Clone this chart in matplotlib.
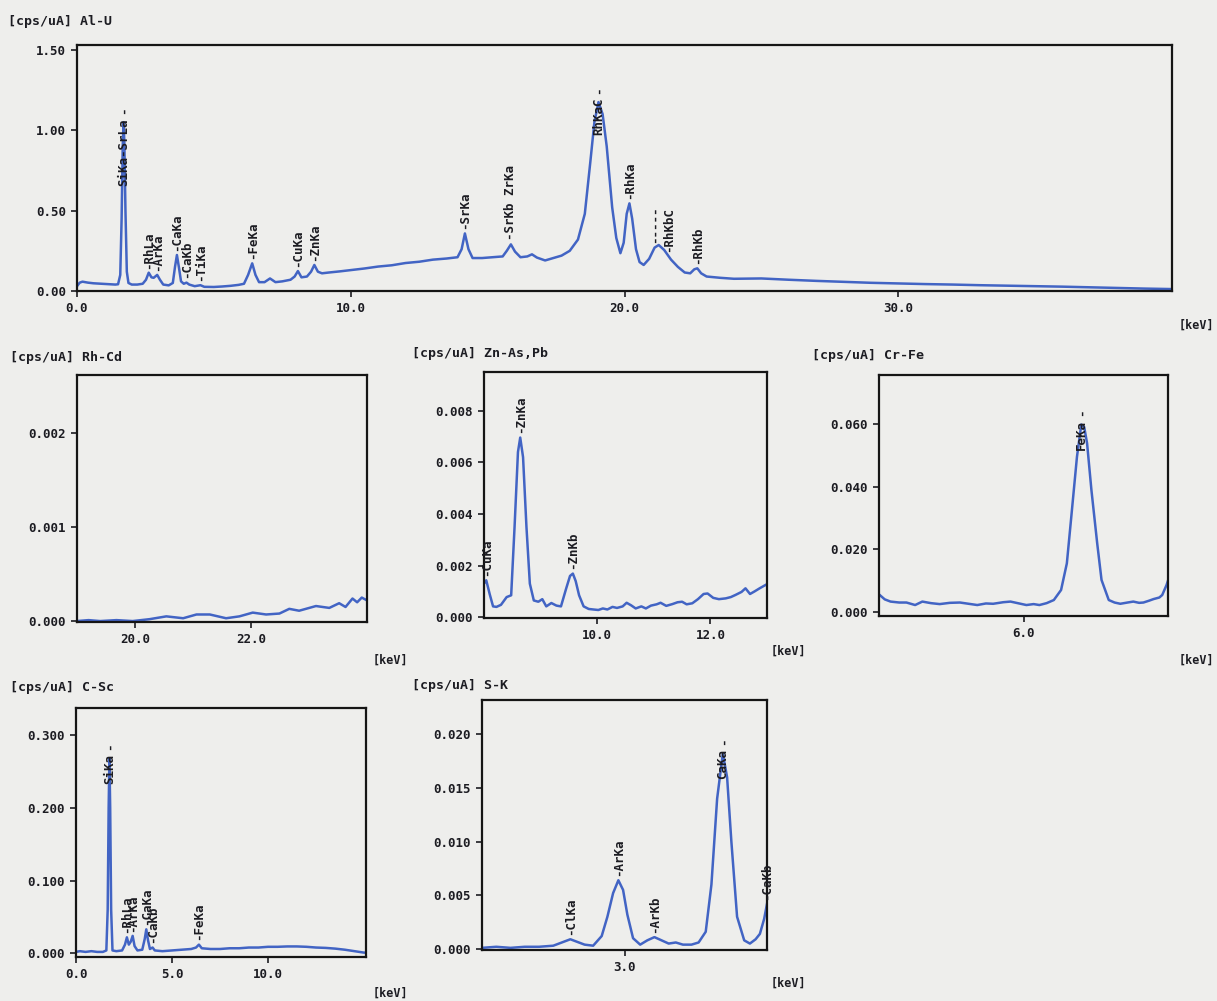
import numpy as np
import matplotlib
matplotlib.use("Agg")
import matplotlib.pyplot as plt
from matplotlib.ticker import FixedLocator, FormatStrFormatter

# ---------------- spectra (energy in keV, intensity in cps/uA) ----------------
al_u_kev = [0.00, 0.10, 0.20, 0.40, 0.60, 0.80, 1.00, 1.20, 1.40, 1.50, 1.58, 1.63, 1.67, 1.70,
            1.73, 1.77, 1.82, 1.88, 2.00, 2.20, 2.40, 2.52, 2.62, 2.72, 2.80, 2.93, 3.03, 3.15,
            3.35, 3.50, 3.58, 3.65, 3.72, 3.80, 3.90, 4.00, 4.10, 4.30, 4.51, 4.65, 5.00, 5.30,
            5.60, 5.90, 6.10, 6.25, 6.40, 6.52, 6.65, 6.85, 7.05, 7.25, 7.50, 7.80, 7.95, 8.07,
            8.20, 8.40, 8.55, 8.67, 8.80, 8.95, 9.20, 9.60, 10.0, 10.5, 11.0, 11.5, 12.0, 12.5,
            13.0, 13.5, 13.9, 14.05, 14.17, 14.30, 14.45, 14.8, 15.2, 15.55, 15.70, 15.85, 16.00,
            16.20, 16.45, 16.62, 16.80, 17.1, 17.4, 17.7, 18.0, 18.3, 18.55, 18.75, 18.90, 19.05,
            19.20, 19.35, 19.55, 19.70, 19.85, 19.97, 20.08, 20.18, 20.28, 20.42, 20.55, 20.70,
            20.90, 21.10, 21.25, 21.45, 21.70, 21.95, 22.20, 22.40, 22.55, 22.66, 22.80, 23.00,
            23.5, 24.0, 25.0, 26.0, 27.0, 28.0, 29.0, 30.0, 31.0, 32.0, 33.0, 34.0, 35.0, 36.0,
            37.0, 38.0, 39.0, 40.0]
al_u_cps = [0.030, 0.052, 0.058, 0.052, 0.048, 0.046, 0.044, 0.042, 0.040, 0.042, 0.10, 0.45, 0.90, 1.05,
            0.92, 0.50, 0.12, 0.050, 0.040, 0.040, 0.045, 0.070, 0.114, 0.085, 0.082, 0.100, 0.070, 0.040,
            0.035, 0.050, 0.150, 0.224, 0.150, 0.060, 0.045, 0.052, 0.040, 0.030, 0.036, 0.026, 0.025, 0.028,
            0.032, 0.038, 0.045, 0.100, 0.172, 0.100, 0.055, 0.055, 0.078, 0.055, 0.060, 0.070, 0.090, 0.124,
            0.085, 0.090, 0.120, 0.162, 0.120, 0.110, 0.115, 0.122, 0.130, 0.140, 0.152, 0.160, 0.174, 0.182,
            0.195, 0.202, 0.210, 0.260, 0.358, 0.260, 0.205, 0.205, 0.210, 0.215, 0.250, 0.290, 0.245,
            0.210, 0.215, 0.228, 0.208, 0.190, 0.205, 0.220, 0.250, 0.320, 0.480, 0.800, 1.050, 1.175,
            1.100, 0.900, 0.520, 0.330, 0.235, 0.300, 0.480, 0.545, 0.450, 0.260, 0.180, 0.162,
            0.200, 0.270, 0.286, 0.255, 0.195, 0.150, 0.115, 0.110, 0.135, 0.141, 0.110, 0.090,
            0.082, 0.076, 0.078, 0.070, 0.063, 0.057, 0.051, 0.047, 0.043, 0.040, 0.036, 0.033, 0.030, 0.027,
            0.023, 0.019, 0.015, 0.012]

rh_cd_kev = [19.00, 19.20, 19.40, 19.68, 19.96, 20.25, 20.54, 20.83, 21.06, 21.29, 21.57, 21.80,
             22.03, 22.26, 22.49, 22.66, 22.83, 23.12, 23.35, 23.52, 23.63, 23.75, 23.83, 23.91, 24.00]
rh_cd_cps = [0.00000, 0.00001, 0.00000, 0.00001, 0.00000, 0.00002, 0.00005, 0.00003, 0.00007, 0.00007,
             0.00003, 0.00005, 0.00009, 0.00007, 0.00008, 0.00013, 0.00011, 0.00016, 0.00014, 0.00019,
             0.00015, 0.00024, 0.00020, 0.00025, 0.00022]

zn_as_kev = [8.00, 8.04, 8.10, 8.16, 8.22, 8.30, 8.40, 8.48, 8.54, 8.60, 8.64, 8.69, 8.75, 8.81,
             8.88, 8.96, 9.03, 9.10, 9.19, 9.28, 9.36, 9.45, 9.52, 9.57, 9.62, 9.68, 9.76, 9.85,
             9.93, 10.02, 10.10, 10.18, 10.27, 10.35, 10.45, 10.52, 10.60, 10.68, 10.78, 10.86,
             10.95, 11.05, 11.12, 11.22, 11.33, 11.42, 11.50, 11.58, 11.68, 11.78, 11.88, 11.95,
             12.05, 12.15, 12.27, 12.36, 12.44, 12.55, 12.62, 12.70, 12.78, 12.87, 12.95, 13.00]
zn_as_cps = [0.00130, 0.00143, 0.00090, 0.00042, 0.00040, 0.00048, 0.00078, 0.00085, 0.00350, 0.00640,
             0.00696, 0.00620, 0.00350, 0.00130, 0.00065, 0.00060, 0.00070, 0.00042, 0.00055, 0.00045,
             0.00042, 0.00110, 0.00160, 0.00169, 0.00140, 0.00085, 0.00042, 0.00032, 0.00030, 0.00028,
             0.00034, 0.00030, 0.00040, 0.00036, 0.00042, 0.00056, 0.00046, 0.00034, 0.00042, 0.00034,
             0.00045, 0.00050, 0.00056, 0.00044, 0.00051, 0.00058, 0.00060, 0.00050, 0.00054, 0.00070,
             0.00090, 0.00092, 0.00075, 0.00070, 0.00073, 0.00078, 0.00086, 0.00098, 0.00112, 0.00090,
             0.00100, 0.00112, 0.00122, 0.00128]

cr_fe_kev = [5.00, 5.04, 5.08, 5.14, 5.19, 5.25, 5.30, 5.36, 5.42, 5.49, 5.56, 5.62, 5.68, 5.74,
             5.79, 5.86, 5.91, 5.97, 6.02, 6.07, 6.11, 6.16, 6.21, 6.26, 6.30, 6.33, 6.37, 6.40,
             6.42, 6.44, 6.47, 6.51, 6.54, 6.59, 6.63, 6.67, 6.72, 6.76, 6.80, 6.83, 6.87, 6.90,
             6.94, 6.96, 6.99, 7.00]
cr_fe_cps = [0.0056, 0.0040, 0.0033, 0.0030, 0.0030, 0.0022, 0.0033, 0.0028, 0.0025, 0.0029, 0.0030,
             0.0026, 0.0022, 0.0027, 0.0026, 0.0031, 0.0033, 0.0027, 0.0022, 0.0025, 0.0022, 0.0028,
             0.0038, 0.0070, 0.0155, 0.0300, 0.0495, 0.0598, 0.0590, 0.0538, 0.0389, 0.0219, 0.0102,
             0.0038, 0.0030, 0.0026, 0.0030, 0.0033, 0.0029, 0.0030, 0.0036, 0.0041, 0.0046, 0.0054,
             0.0086, 0.0100]

c_sc_kev = [0.00, 0.20, 0.50, 0.80, 1.10, 1.40, 1.58, 1.65, 1.70, 1.74, 1.78, 1.83, 1.90, 2.10,
            2.40, 2.55, 2.65, 2.75, 2.85, 2.95, 3.05, 3.20, 3.45, 3.58, 3.66, 3.75, 3.85, 3.99,
            4.10, 4.50, 5.00, 5.50, 6.00, 6.25, 6.40, 6.55, 7.00, 7.50, 8.00, 8.50, 9.00, 9.50,
            10.0, 10.5, 11.0, 11.5, 12.0, 12.5, 13.0, 13.5, 14.0, 14.5, 15.0, 15.1]
c_sc_cps = [0.002, 0.003, 0.002, 0.003, 0.002, 0.002, 0.004, 0.060, 0.200, 0.268, 0.200, 0.060, 0.004,
            0.003, 0.004, 0.012, 0.022, 0.012, 0.016, 0.024, 0.010, 0.004, 0.005, 0.020, 0.033, 0.018,
            0.006, 0.008, 0.004, 0.003, 0.004, 0.005, 0.006, 0.008, 0.012, 0.007, 0.006, 0.006, 0.007,
            0.007, 0.008, 0.008, 0.009, 0.009, 0.0095, 0.0095, 0.009, 0.008, 0.0075, 0.0065, 0.005,
            0.003, 0.001, 0.001]

s_k_kev = [2.00, 2.10, 2.20, 2.30, 2.40, 2.50, 2.56, 2.62, 2.68, 2.72, 2.78, 2.84, 2.88, 2.92,
           2.957, 2.99, 3.02, 3.06, 3.11, 3.16, 3.21, 3.26, 3.31, 3.36, 3.41, 3.47, 3.52, 3.57,
           3.61, 3.65, 3.69, 3.72, 3.75, 3.79, 3.84, 3.88, 3.92, 3.95, 3.98, 4.00]
s_k_cps = [0.0001, 0.0002, 0.0001, 0.0002, 0.0002, 0.0003, 0.0006, 0.0009, 0.0006, 0.0004, 0.0003,
           0.0012, 0.0030, 0.0052, 0.0064, 0.0055, 0.0032, 0.0010, 0.0004, 0.0008, 0.0011, 0.0008,
           0.0005, 0.0006, 0.0004, 0.0004, 0.0006, 0.0016, 0.0060, 0.0140, 0.0182, 0.0160, 0.0100,
           0.0030, 0.0008, 0.0005, 0.0009, 0.0014, 0.0028, 0.0042]

# ---------------- peak identifications (name, energy keV) ----------------
al_u_peaks = [("SiKa-SrLa", 1.70), ("-RhLa", 2.62), ("-ArKa", 2.93), ("-CaKa", 3.65),
              ("-CaKb", 4.00), ("-TiKa", 4.51), ("-FeKa", 6.40), ("-CuKa", 8.07),
              ("-ZnKa", 8.67), ("-SrKa", 14.17), ("-SrKb ZrKa", 15.85), ("RhKaC", 19.05),
              ("-RhKa", 20.18), ("-----", 21.10), ("-RhKbC", 21.60), ("-RhKb", 22.66)]
rh_cd_peaks = []
zn_as_peaks = [("-CuKa", 8.04), ("-ZnKa", 8.64), ("-ZnKb", 9.57)]
cr_fe_peaks = [("FeKa", 6.40)]
c_sc_peaks = [("SiKa", 1.74), ("-RhLa", 2.65), ("-ArKa", 2.95), ("-CaKa", 3.66),
              ("-CaKb", 3.99), ("-FeKa", 6.40)]
s_k_peaks = [("-ClKa", 2.62), ("-ArKa", 2.957), ("-ArKb", 3.21), ("CaKa", 3.69), ("-CaKb", 4.00)]

# ---------------- styling ----------------
W, H = 1217, 1001
PAPER = "#eeeeec"
LINE = "#4264c4"
INK = "#1c1c22"
MONO = "DejaVu Sans Mono"

fig = plt.figure(figsize=(W / 100, H / 100), dpi=100, facecolor=PAPER)


def box(x0, y0, x1, y1):
    return [x0 / W, 1 - y1 / H, (x1 - x0) / W, (y1 - y0) / H]


def fig_text(x, y, s, size=9.5, ha="left"):
    fig.text(x / W, 1 - y / H, s, ha=ha, va="center", fontsize=size,
             family=MONO, weight="bold", color=INK)


def peak_label(ax, text, e, top, dy, va):
    ax.annotate(text, xy=(e, top), xytext=(0, dy), textcoords="offset points",
                rotation=90, ha="center", va=va, fontsize=9, family=MONO,
                weight="bold", color=INK, annotation_clip=False)


def panel(rect, kev, cps, xlim, ylim, xticks, xfmt, yticks, yfmt, peaks,
          title, title_xy, unit_xy):
    ax = fig.add_axes(box(*rect))
    ax.set_facecolor(PAPER)
    ax.plot(kev, cps, color=LINE, lw=1.8, solid_joinstyle="round")
    ax.set_xlim(*xlim)
    ax.set_ylim(*ylim)
    ax.xaxis.set_major_locator(FixedLocator(xticks))
    ax.yaxis.set_major_locator(FixedLocator(yticks))
    ax.xaxis.set_major_formatter(FormatStrFormatter(xfmt))
    ax.yaxis.set_major_formatter(FormatStrFormatter(yfmt))
    ax.tick_params(direction="out", length=4, width=1.2, color=INK, labelsize=9,
                   labelcolor=INK, pad=4)
    for lab in ax.get_xticklabels() + ax.get_yticklabels():
        lab.set_family(MONO)
        lab.set_weight("bold")
    for sp in ax.spines.values():
        sp.set_linewidth(1.6)
        sp.set_color("#151515")
    for name, e in peaks:
        top = np.interp(e, kev, cps)
        if name.startswith("-"):
            # label stands above the peak, starting with its marker dash
            peak_label(ax, name, e, top, 3, "bottom")
        else:
            # tall peak: marker above, name written down over the peak
            peak_label(ax, "-", e, top, 6, "bottom")
            peak_label(ax, name, e, top, 3, "top")
    fig_text(*title_xy, "[cps/uA] " + title)
    fig_text(*unit_xy, "[keV]", size=8.5, ha="right")
    return ax


panel((77, 45, 1172, 291), al_u_kev, al_u_cps, (0, 40), (0, 1.53),
      [0, 10, 20, 30], "%.1f", [0, 0.5, 1.0, 1.5], "%.2f", al_u_peaks,
      "Al-U", (8, 22), (1214, 325))
panel((77, 375, 367, 622), rh_cd_kev, rh_cd_cps, (19, 24), (-0.00001, 0.00262),
      [20, 22], "%.1f", [0, 0.001, 0.002], "%.3f", rh_cd_peaks,
      "Rh-Cd", (10, 357), (408, 660))
panel((484, 372, 767, 618), zn_as_kev, zn_as_cps, (8.0, 13.0), (-0.00003, 0.0095),
      [10, 12], "%.1f", [0, 0.002, 0.004, 0.006, 0.008], "%.3f", zn_as_peaks,
      "Zn-As,Pb", (412, 354), (806, 651))
panel((879, 375, 1168, 616), cr_fe_kev, cr_fe_cps, (5.0, 7.0), (-0.0013, 0.0756),
      [6], "%.1f", [0, 0.02, 0.04, 0.06], "%.3f", cr_fe_peaks,
      "Cr-Fe", (812, 355), (1214, 660))
panel((76, 708, 366, 957), c_sc_kev, c_sc_cps, (0, 15.1), (-0.005, 0.337),
      [0, 5, 10], "%.1f", [0, 0.1, 0.2, 0.3], "%.3f", c_sc_peaks,
      "C-Sc", (10, 688), (408, 993))
panel((482, 700, 767, 950), s_k_kev, s_k_cps, (2.0, 4.0), (-0.0001, 0.0232),
      [3], "%.1f", [0, 0.005, 0.010, 0.015, 0.020], "%.3f", s_k_peaks,
      "S-K", (412, 685), (806, 983))

fig.savefig("out.png", dpi=100, facecolor=PAPER)
